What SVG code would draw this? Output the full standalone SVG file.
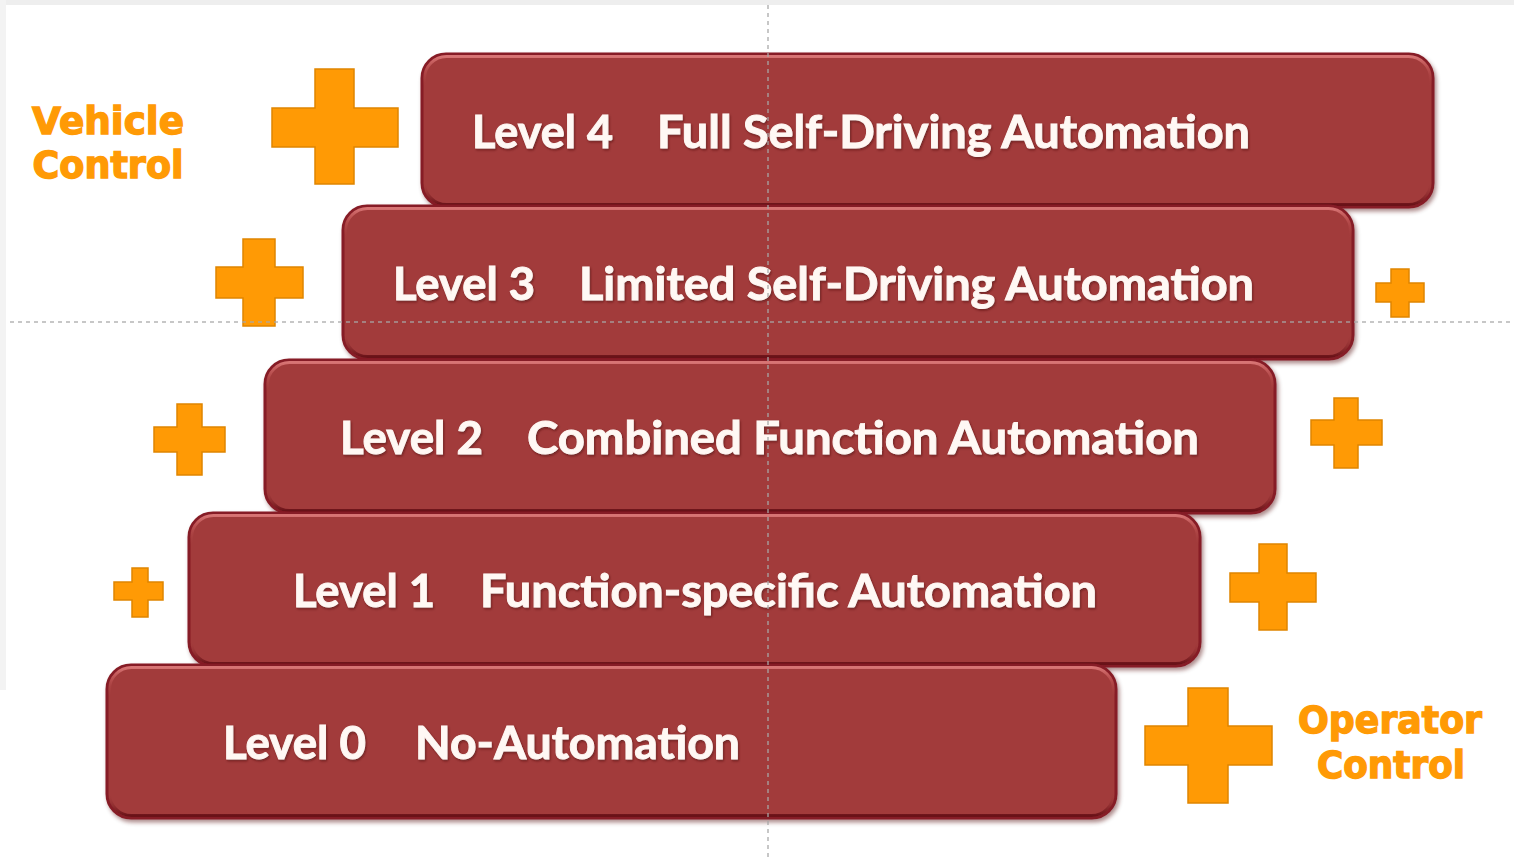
<svg xmlns="http://www.w3.org/2000/svg" width="1514" height="859" viewBox="0 0 1514 859">
  <style>
    .box { fill: #A23B3B; stroke: #861C25; stroke-width: 3; }
    .bevel { fill: none; stroke: url(#bevelGrad); stroke-width: 3; }
    .lvl { font-family: Lato, "Open Sans", "Liberation Sans", sans-serif; font-weight: 700; font-size: 45px; fill: #FFF8F4; stroke: #FFF8F4; stroke-width: 0.9; filter: url(#txtShadow); }
    .cross { fill: #FF9A05; stroke: #E08500; stroke-width: 1.5; stroke-linejoin: miter; }
    .side { font-family: "DejaVu Sans", "Liberation Sans", sans-serif; font-weight: 700; font-size: 37px; fill: #FF9A05; stroke: #FF9A05; stroke-width: 1.4; text-anchor: middle; }
    .guide { stroke: #A8A8A8; stroke-width: 1.5; stroke-dasharray: 4 4; fill: none; opacity: 0.85; }
  </style>
  <defs>
    <linearGradient id="bevelGrad" x1="0" y1="0" x2="0" y2="1">
      <stop offset="0" stop-color="#D77474"/>
      <stop offset="0.08" stop-color="#C65A5A" stop-opacity="0.6"/>
      <stop offset="0.2" stop-color="#A23B3B" stop-opacity="0"/>
      <stop offset="0.85" stop-color="#A23B3B" stop-opacity="0"/>
      <stop offset="1" stop-color="#6A1218"/>
    </linearGradient>
    <filter id="boxShadow" x="-5%" y="-10%" width="110%" height="125%">
      <feDropShadow dx="2" dy="3" stdDeviation="2" flood-color="#4A0A0E" flood-opacity="0.45"/>
    </filter>
    <filter id="txtShadow" x="-5%" y="-20%" width="110%" height="150%">
      <feDropShadow dx="1" dy="1.5" stdDeviation="1" flood-color="#4A0A0E" flood-opacity="0.6"/>
    </filter>
  </defs>

  <rect x="0" y="0" width="1514" height="859" fill="#FFFFFF"/>
  <rect x="0" y="0" width="1514" height="5" fill="#EEEEEE"/>
  <rect x="0" y="0" width="6" height="690" fill="#F3F3F3"/>

  <g id="level4">
    <rect class="box" x="422" y="54" width="1011" height="153" rx="24" filter="url(#boxShadow)"/>
    <rect class="bevel" x="424.5" y="56.5" width="1006" height="148" rx="22"/>
    <text class="lvl" x="472" y="148" textLength="141" lengthAdjust="spacingAndGlyphs">Level 4</text>
    <text class="lvl" x="657" y="148" textLength="593" lengthAdjust="spacingAndGlyphs">Full Self-Driving Automation</text>
  </g>
  <g id="level3">
    <rect class="box" x="343" y="206" width="1010" height="153" rx="24" filter="url(#boxShadow)"/>
    <rect class="bevel" x="345.5" y="208.5" width="1005" height="148" rx="22"/>
    <text class="lvl" x="393" y="300" textLength="142" lengthAdjust="spacingAndGlyphs">Level 3</text>
    <text class="lvl" x="579" y="300" textLength="675" lengthAdjust="spacingAndGlyphs">Limited Self-Driving Automation</text>
  </g>
  <g id="level2">
    <rect class="box" x="265" y="360" width="1010" height="153" rx="24" filter="url(#boxShadow)"/>
    <rect class="bevel" x="267.5" y="362.5" width="1005" height="148" rx="22"/>
    <text class="lvl" x="340" y="454" textLength="143" lengthAdjust="spacingAndGlyphs">Level 2</text>
    <text class="lvl" x="527" y="454" textLength="672" lengthAdjust="spacingAndGlyphs">Combined Function Automation</text>
  </g>
  <g id="level1">
    <rect class="box" x="189" y="513" width="1011" height="153" rx="24" filter="url(#boxShadow)"/>
    <rect class="bevel" x="191.5" y="515.5" width="1006" height="148" rx="22"/>
    <text class="lvl" x="293" y="607" textLength="142" lengthAdjust="spacingAndGlyphs">Level 1</text>
    <text class="lvl" x="480" y="607" textLength="617" lengthAdjust="spacingAndGlyphs">Function-specific Automation</text>
  </g>
  <g id="level0">
    <rect class="box" x="107" y="665" width="1009" height="153" rx="24" filter="url(#boxShadow)"/>
    <rect class="bevel" x="109.5" y="667.5" width="1004" height="148" rx="22"/>
    <text class="lvl" x="223" y="759" textLength="143" lengthAdjust="spacingAndGlyphs">Level 0</text>
    <text class="lvl" x="415" y="759" textLength="325" lengthAdjust="spacingAndGlyphs">No-Automation</text>
  </g>

  <g id="crosses">
    <g id="cross-l4-left"><path class="cross" d="M315 69 H354 V108 H398 V147 H354 V184 H315 V147 H272 V108 H315 Z"/></g>
    <g id="cross-l3-left"><path class="cross" d="M243 239 H275 V267 H303 V298 H275 V326 H243 V298 H216 V267 H243 Z"/></g>
    <g id="cross-l3-right"><path class="cross" d="M1391 269 H1409 V283 H1424 V302 H1409 V317 H1391 V302 H1376 V283 H1391 Z"/></g>
    <g id="cross-l2-left"><path class="cross" d="M177 404 H202 V427 H225 V452 H202 V475 H177 V452 H154 V427 H177 Z"/></g>
    <g id="cross-l2-right"><path class="cross" d="M1334 398 H1358 V420 H1382 V445 H1358 V468 H1334 V445 H1311 V420 H1334 Z"/></g>
    <g id="cross-l1-left"><path class="cross" d="M132 568 H148 V582 H163 V600 H148 V617 H132 V600 H114 V582 H132 Z"/></g>
    <g id="cross-l1-right"><path class="cross" d="M1259 544 H1287 V573 H1316 V602 H1287 V630 H1259 V602 H1230 V573 H1259 Z"/></g>
    <g id="cross-l0-right"><path class="cross" d="M1188 688 H1228 V726 H1272 V765 H1228 V803 H1188 V765 H1145 V726 H1188 Z"/></g>
  </g>

  <g id="vehicle-control">
    <text class="side" x="108" y="134" textLength="152" lengthAdjust="spacingAndGlyphs">Vehicle</text>
    <text class="side" x="108" y="178" textLength="151" lengthAdjust="spacingAndGlyphs">Control</text>
  </g>
  <g id="operator-control">
    <text class="side" x="1390" y="733" textLength="184" lengthAdjust="spacingAndGlyphs">Operator</text>
    <text class="side" x="1391" y="778" textLength="148" lengthAdjust="spacingAndGlyphs">Control</text>
  </g>

  <g id="connectors">
    <line class="guide" x1="768" y1="5" x2="768" y2="859"/>
    <line class="guide" x1="10" y1="322" x2="1514" y2="322"/>
  </g>
</svg>
